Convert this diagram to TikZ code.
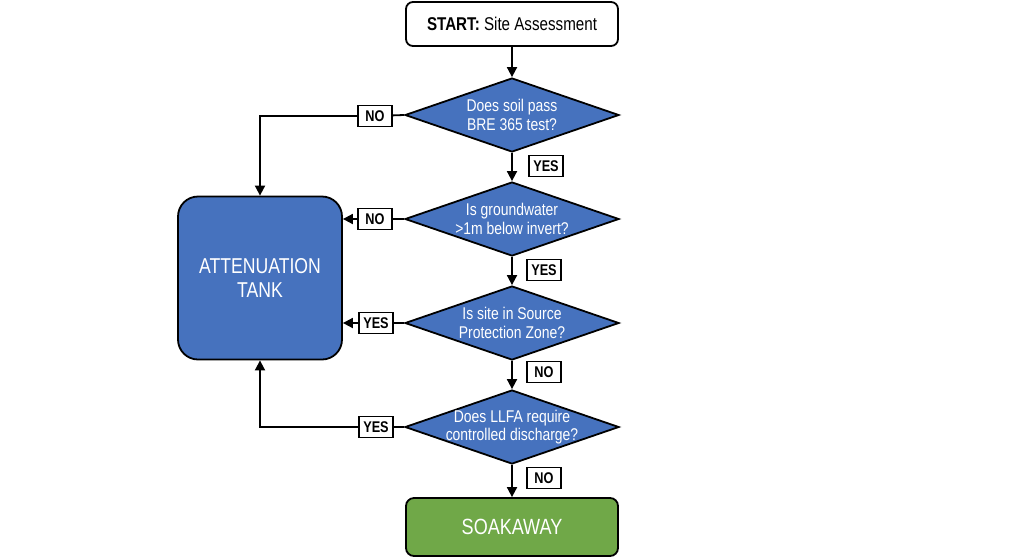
\documentclass[tikz,border=0pt]{standalone}
\usepackage{fontspec}
\setmainfont{Liberation Sans}[FakeStretch=0.82]
\usetikzlibrary{positioning,arrows.meta,shapes.geometric,calc}
\definecolor{deccol}{RGB}{70,114,190}
\definecolor{soakcol}{RGB}{112,168,72}

\begin{document}
\begin{tikzpicture}[x=1pt, y=-1pt,
  startbox/.style={rectangle, draw=black, fill=white, line width=1.8pt, rounded corners=7pt,
                   minimum width=212pt, minimum height=44pt, font=\fontsize{18.5}{21}\selectfont},
  dec/.style={diamond, draw=black, fill=deccol, line width=1.8pt, inner sep=0pt,
              minimum width=214pt, minimum height=74pt},
  qlab/.style={text=white, align=center, font=\fontsize{17}{18.5}\selectfont},
  tank/.style={rectangle, draw=black, fill=deccol, line width=1.8pt, rounded corners=20pt,
               minimum width=164pt, minimum height=163pt, text=white, align=center,
               font=\fontsize{21.5}{24}\selectfont},
  soak/.style={rectangle, draw=black, fill=soakcol, line width=1.8pt, rounded corners=8pt,
               minimum width=212pt, minimum height=58pt, text=white,
               font=\fontsize{22}{26}\selectfont},
  tag/.style={rectangle, draw=black, fill=white, line width=1.8pt, inner sep=2pt,
              minimum width=34pt, minimum height=21pt, font=\bfseries\fontsize{15.5}{17}\selectfont},
  ea/.style={-{Triangle[length=10pt,width=10pt]}, line width=1.8pt},
  ln/.style={line width=1.8pt}
]
\useasboundingbox (0,0) rectangle (1024,558);

\node[startbox] (start) at (512,24) {\textbf{START:} Site Assessment};

\node[dec, label={[qlab]center:Does soil pass\\BRE 365 test?}] (d1) at (512,115) {};
\node[dec, label={[qlab]center:Is groundwater\\>1m below invert?}] (d2) at (512,219) {};
\node[dec, label={[qlab]center:Is site in Source\\Protection Zone?}] (d3) at (512,323) {};
\node[dec, label={[qlab]center:Does LLFA require\\controlled discharge?}] (d4) at (512,427) {};

\node[tank] (tank) at (260,278) {ATTENUATION\\TANK};
\node[soak] (soakaway) at (512,527) {SOAKAWAY};

\node[tag] (y1) at (546,166) {YES};
\node[tag] (y2) at (544,270) {YES};
\node[tag] (n3) at (544,372) {NO};
\node[tag] (n4) at (544,478) {NO};

\node[tag] (n1) at (375,116) {NO};
\node[tag] (n2) at (375,219) {NO};
\node[tag] (y3) at (376,323) {YES};
\node[tag] (y4) at (376,427) {YES};

\draw[ea] (start) -- (d1);
\draw[ea] (d1) -- (d2);
\draw[ea] (d2) -- (d3);
\draw[ea] (d3) -- (d4);
\draw[ea] (d4) -- (soakaway);

\draw[ln] (d1.west) -- (n1);
\draw[ea] (n1) -| (tank.north);
\draw[ln] (d2.west) -- (n2);
\draw[ea] (n2) -- (tank.east |- n2);
\draw[ln] (d3.west) -- (y3);
\draw[ea] (y3) -- (tank.east |- y3);
\draw[ln] (d4.west) -- (y4);
\draw[ea] (y4) -| (tank.south);

\end{tikzpicture}
\end{document}
